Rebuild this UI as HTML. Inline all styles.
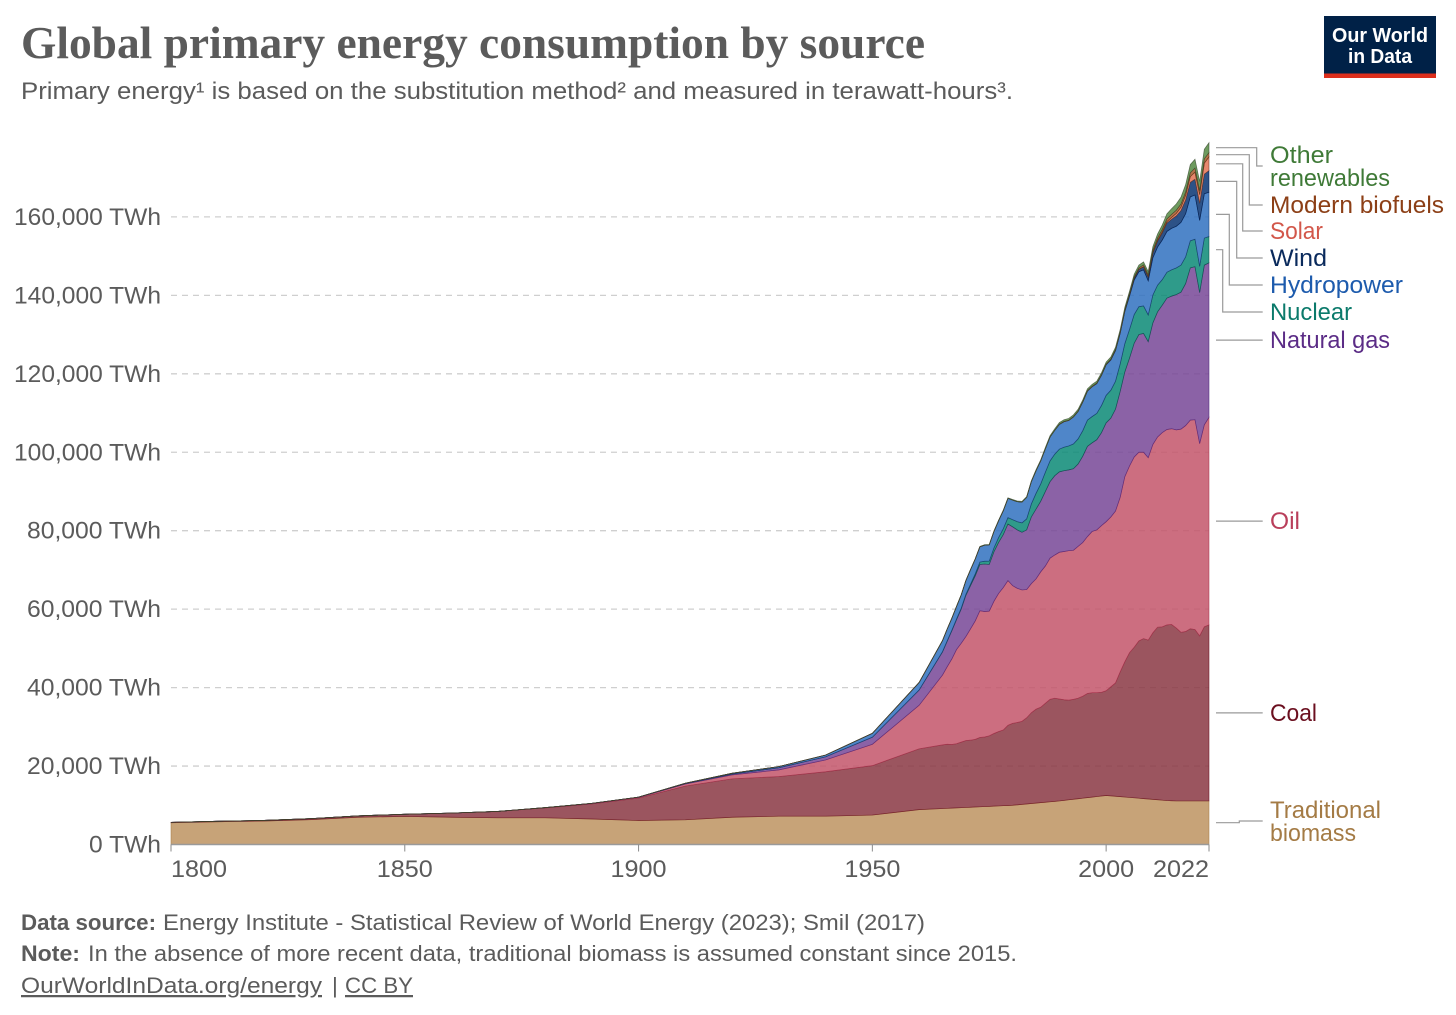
<!DOCTYPE html>
<html lang="en">
<head>
<meta charset="utf-8">
<title>Global primary energy consumption by source</title>
<style>
html,body{margin:0;padding:0;background:#fff;}
svg{display:block;}
text{font-family:"Liberation Sans",sans-serif;}
.ttl{font-family:"Liberation Serif",serif;font-weight:700;font-size:46px;fill:#5b5b5b;}
.sub{font-size:24.5px;fill:#5b5b5b;}
.foot{font-size:22.5px;fill:#5b5b5b;}
.fb{font-weight:700;}
.lab{font-size:24px;}
.tick{font-size:24px;fill:#5b5b5b;}
</style>
</head>
<body>
<svg id="chart" xmlns="http://www.w3.org/2000/svg" width="1456" height="1015" viewBox="0 0 1456 1015">
  <rect x="0" y="0" width="1456" height="1015" fill="#ffffff"/>
  <text class="ttl" x="21" y="58" textLength="904" lengthAdjust="spacingAndGlyphs">Global primary energy consumption by source</text>
  <text class="sub" x="21" y="99" textLength="992" lengthAdjust="spacingAndGlyphs">Primary energy¹ is based on the substitution method² and measured in terawatt-hours³.</text>

  <g>
    <rect x="1324" y="16" width="112" height="62" fill="#002147"/>
    <rect x="1324" y="73.5" width="112" height="4.5" fill="#dc2e1c"/>
    <text x="1380" y="42" text-anchor="middle" font-size="20" font-weight="700" fill="#ffffff" textLength="96" lengthAdjust="spacingAndGlyphs">Our World</text>
    <text x="1380" y="63" text-anchor="middle" font-size="20" font-weight="700" fill="#ffffff" textLength="64" lengthAdjust="spacingAndGlyphs">in Data</text>
  </g>

  <g id="grid"></g>
  <g id="areas"></g>
  <g id="axes"></g>
  <g id="connectors"></g>

  <g>
    <text class="lab" x="1270" y="163" fill="#3f7a37" textLength="63" lengthAdjust="spacingAndGlyphs">Other</text>
    <text class="lab" x="1270" y="186" fill="#3f7a37" textLength="120" lengthAdjust="spacingAndGlyphs">renewables</text>
    <text class="lab" x="1270" y="213" fill="#8c3f16" textLength="174" lengthAdjust="spacingAndGlyphs">Modern biofuels</text>
    <text class="lab" x="1270" y="239" fill="#d2574a" textLength="53" lengthAdjust="spacingAndGlyphs">Solar</text>
    <text class="lab" x="1270" y="266" fill="#0a2a5c" textLength="57" lengthAdjust="spacingAndGlyphs">Wind</text>
    <text class="lab" x="1270" y="293" fill="#1d5bad" textLength="133" lengthAdjust="spacingAndGlyphs">Hydropower</text>
    <text class="lab" x="1270" y="320" fill="#0b7a6b" textLength="82" lengthAdjust="spacingAndGlyphs">Nuclear</text>
    <text class="lab" x="1270" y="348" fill="#5b2c86" textLength="120" lengthAdjust="spacingAndGlyphs">Natural gas</text>
    <text class="lab" x="1270" y="529" fill="#b93f5b" textLength="30" lengthAdjust="spacingAndGlyphs">Oil</text>
    <text class="lab" x="1270" y="721" fill="#6b0f1f" textLength="47" lengthAdjust="spacingAndGlyphs">Coal</text>
    <text class="lab" x="1270" y="818" fill="#a47b45" textLength="111" lengthAdjust="spacingAndGlyphs">Traditional</text>
    <text class="lab" x="1270" y="841" fill="#a47b45" textLength="86" lengthAdjust="spacingAndGlyphs">biomass</text>
  </g>

  <g>
    <text class="foot fb" x="21" y="930" textLength="135" lengthAdjust="spacingAndGlyphs">Data source:</text>
    <text class="foot" x="163" y="930" textLength="762" lengthAdjust="spacingAndGlyphs">Energy Institute - Statistical Review of World Energy (2023); Smil (2017)</text>
    <text class="foot fb" x="21" y="961" textLength="59" lengthAdjust="spacingAndGlyphs">Note:</text>
    <text class="foot" x="88" y="961" textLength="929" lengthAdjust="spacingAndGlyphs">In the absence of more recent data, traditional biomass is assumed constant since 2015.</text>
    <text class="foot" x="21" y="993" textLength="301" lengthAdjust="spacingAndGlyphs" text-decoration="underline">OurWorldInData.org/energy</text>
    <text class="foot" x="332" y="993">|</text>
    <text class="foot" x="345" y="993" textLength="68" lengthAdjust="spacingAndGlyphs" text-decoration="underline">CC BY</text>
  </g>
</svg>

<script>
const years = [1800,1810,1820,1830,1840,1850,1860,1870,1880,1890,1900,1910,1920,1930,1940,1950,1960,
1965,1966,1967,1968,1969,1970,1971,1972,1973,1974,1975,1976,1977,1978,1979,
1980,1981,1982,1983,1984,1985,1986,1987,1988,1989,
1990,1991,1992,1993,1994,1995,1996,1997,1998,1999,
2000,2001,2002,2003,2004,2005,2006,2007,2008,2009,
2010,2011,2012,2013,2014,2015,2016,2017,2018,2019,2020,2021,2022];

const traditionalBiomass = [5556,5800,6000,6350,6950,7150,6950,6800,6800,6500,6111,6300,6944,7222,7222,7500,8889,
9167,9222,9278,9333,9389,9444,9500,9556,9611,9667,9722,9778,9833,9889,9944,
10000,10111,10222,10333,10444,10556,10667,10778,10889,11000,
11111,11250,11389,11528,11667,11806,11944,12083,12222,12361,
12500,12400,12300,12200,12100,12000,11900,11800,11700,11600,
11500,11400,11300,11200,11150,11111,11111,11111,11111,11111,11111,11111,11111];

const coal = [97,128,153,264,356,569,1061,1642,2542,3856,5728,8600,9800,10100,11330,12603,15500,
16233,16328,16222,16367,16711,17056,17100,17244,17689,17733,17978,18522,18967,19311,20456,
20900,20989,21178,21967,23156,23944,24333,25222,26111,26300,
25989,25650,25411,25472,25633,25994,26556,26617,26478,26439,
26700,27800,28900,31800,34500,36900,38400,40100,40800,40500,
42500,44000,44200,44800,44950,44089,42989,43189,43889,43689,42089,44389,44889];

const oil = [0,0,0,0,0,0,0,6,58,90,181,500,1000,1700,3000,5444,11100,
17800,19750,21800,24000,25200,26500,28400,30200,32300,32000,31800,33700,35200,36300,36900,
35100,34200,33500,32700,32900,33200,34500,35000,36000,36500,
37400,37800,38100,38000,38700,39200,40000,41100,41500,42500,
43100,43300,43800,44500,47200,47600,48500,48100,47500,46500,
48000,48500,49500,49800,49900,50500,51800,52500,53200,53500,49000,51500,52900];

const naturalGas = [0,0,0,0,0,0,0,0,3,50,64,142,233,550,800,1800,3900,
5900,6500,7200,7600,8700,10500,11000,11500,11800,12100,11900,12600,13000,13500,14400,
15000,14900,14700,15200,17000,17800,18000,19000,19500,20200,
20500,20600,20600,20800,21000,22000,23000,22600,23000,23700,
25200,25200,26000,27000,26700,27500,29000,30000,30300,29600,
31000,31900,32500,33500,33800,34500,34900,36200,38800,39000,38500,40700,39400];

const nuclear = [0,0,0,0,0,0,0,0,0,0,0,0,0,0,0,0,0,
70,100,130,170,220,280,370,480,600,720,850,1000,1250,1500,1650,
1800,2100,2400,2800,3300,4000,4400,4900,5300,5500,
5800,6000,6100,6300,6400,6500,6700,6700,6700,6900,
7000,7100,7100,7000,7200,7300,7300,7100,7000,6800,
7100,6800,6500,6600,6700,6800,6900,6800,6900,7000,6700,6900,6700];

const hydropower = [0,0,0,0,0,0,0,0,0,0,5,90,180,300,450,1000,1900,
2800,3000,3050,3200,3400,3500,3700,3800,3900,4100,4150,4200,4300,4600,4900,
5000,5100,5300,5500,5700,5800,5900,6000,6100,6100,
6300,6500,6500,6900,7000,7300,7400,7600,7600,7700,
7800,7700,7800,7800,8200,8500,8800,8900,9200,8700,
9500,9700,10100,10400,10600,10600,10900,11000,11200,11300,11700,11300,11300];

const wind = [0,0,0,0,0,0,0,0,0,0,0,0,0,0,0,0,0,
0,0,0,0,0,0,0,0,0,0,0,0,0,0,0,
0,0,0,0,1,1,1,1,1,2,
10,10,15,15,20,20,30,40,60,80,
100,140,180,230,300,370,500,630,780,1000,
1250,1550,1800,2150,2300,2650,3000,3500,3700,4000,4400,5000,5500];

const solar = [0,0,0,0,0,0,0,0,0,0,0,0,0,0,0,0,0,
0,0,0,0,0,0,0,0,0,0,0,0,0,0,0,
0,0,0,0,0,0,0,0,0,0,
1,1,1,2,2,2,2,2,3,3,
3,4,5,6,7,10,15,20,30,50,
90,180,270,350,470,650,860,1170,1500,1800,2200,2800,3500];

const modernBiofuels = [0,0,0,0,0,0,0,0,0,0,0,0,0,0,0,0,0,
0,0,0,0,0,0,0,0,0,0,0,0,0,0,0,
0,0,0,0,0,0,0,0,0,0,
60,65,60,60,65,70,70,80,80,80,
100,110,130,150,170,220,280,350,460,500,
600,600,620,700,770,800,800,850,950,1050,1000,1100,1100];

const otherRenewables = [0,0,0,0,0,0,0,0,0,0,0,0,0,0,0,0,0,
50,52,55,60,65,70,75,80,85,90,100,110,120,130,145,
160,170,185,200,215,230,260,300,340,370,
400,420,440,450,470,450,460,470,480,490,
500,520,540,570,600,640,680,720,760,800,
900,1000,1150,1300,1450,1600,1750,1900,2100,2250,2350,2430,2500];

const seriesValues = [traditionalBiomass,coal,oil,naturalGas,nuclear,hydropower,wind,solar,modernBiofuels,otherRenewables];
const seriesNames = ["traditional-biomass","coal","oil","natural-gas","nuclear","hydropower","wind","solar","modern-biofuels","other-renewables"];
const yTickValues = [0,20000,40000,60000,80000,100000,120000,140000,160000];
const yTickLabels = ["0 TWh","20,000 TWh","40,000 TWh","60,000 TWh","80,000 TWh","100,000 TWh","120,000 TWh","140,000 TWh","160,000 TWh"];
const xTickValues = [1800,1850,1900,1950,2000,2022];
const xTickLabels = ["1800","1850","1900","1950","2000","2022"];

/* presentation, kept apart from the data */
const fillColors = ["#bd9360","#893743","#c3556a","#774696","#0a8976","#3071c0","#083472","#e47254","#a85a2a","#558943"];
const strokeColors = ["#a47b45","#6b0f1f","#a8354f","#4f2478","#0a4f45","#163a6e","#001a4a","#6b3a2a","#5a3010","#3a4a30"];
const connectorElbowX = [1239.3,null,null,null,1222.7,1229.3,1236.7,1242.7,1249.3,1256.7];
const connectorLabelY = [821,null,null,null,312,285,258,231,205,166];
const yLabelWidths = [72,134,134,134,134,147,147,147,147];

function xScale(year){ return 171 + (year - 1800) * (1038 / 222); }
function yScale(value){ return 844.5 - value * 0.0039225; }

const NS = "http://www.w3.org/2000/svg";
const gridG = document.getElementById("grid");
const areasG = document.getElementById("areas");
const axesG = document.getElementById("axes");
const connG = document.getElementById("connectors");

/* gridlines and y ticks */
yTickValues.forEach(function(v,i){
  if(v !== 0){
    const line = document.createElementNS(NS,"line");
    
    
    line.setAttribute("x1",171);
    line.setAttribute("x2",1209);
    line.setAttribute("y1",yScale(v));
    line.setAttribute("y2",yScale(v));
    line.setAttribute("stroke","#cfcfcf");
    line.setAttribute("stroke-width","1.3");
    line.setAttribute("stroke-dasharray","6 5");
    gridG.appendChild(line);
  }
  const t = document.createElementNS(NS,"text");
  
  
  t.setAttribute("class","tick");
  t.setAttribute("x",161);
  t.setAttribute("y",yScale(v)+8);
  t.setAttribute("text-anchor","end");
  t.setAttribute("textLength",yLabelWidths[i]);
  t.setAttribute("lengthAdjust","spacingAndGlyphs");
  t.textContent = yTickLabels[i];
  axesG.appendChild(t);
});

/* stacked areas */
const cumulative = years.map(function(){ return 0; });
const bandMid = [];
seriesValues.forEach(function(vals,s){
  const lower = cumulative.slice();
  let top = "";
  let bottom = "";
  years.forEach(function(yr,i){
    cumulative[i] += vals[i];
    top += (i ? "L" : "M") + xScale(yr).toFixed(2) + " " + yScale(cumulative[i]).toFixed(2);
  });
  for(let i = years.length-1; i >= 0; i--){
    bottom += "L" + xScale(years[i]).toFixed(2) + " " + yScale(lower[i]).toFixed(2);
  }
  const last = years.length-1;
  bandMid.push((lower[last] + cumulative[last]) / 2);
  const p = document.createElementNS(NS,"path");
  
  
  p.setAttribute("d",top+bottom+"Z");
  p.setAttribute("fill",fillColors[s]);
  p.setAttribute("fill-opacity","0.85");
  p.setAttribute("stroke",strokeColors[s]);
  p.setAttribute("stroke-opacity","0.75");
  p.setAttribute("stroke-width","0.7");
  areasG.appendChild(p);
});

/* x axis */
const axisLine = document.createElementNS(NS,"line");


axisLine.setAttribute("x1",171);
axisLine.setAttribute("x2",1209);
axisLine.setAttribute("y1",yScale(0));
axisLine.setAttribute("y2",yScale(0));
axisLine.setAttribute("stroke","#9a9a9a");
axisLine.setAttribute("stroke-width","1.4");
axesG.appendChild(axisLine);

xTickValues.forEach(function(yr,i){
  const tk = document.createElementNS(NS,"line");
  
  
  tk.setAttribute("x1",xScale(yr));
  tk.setAttribute("x2",xScale(yr));
  tk.setAttribute("y1",yScale(0));
  tk.setAttribute("y2",yScale(0)+7);
  tk.setAttribute("stroke","#8a8a8a");
  tk.setAttribute("stroke-width","1");
  axesG.appendChild(tk);
  const t = document.createElementNS(NS,"text");
  
  
  t.setAttribute("class","tick");
  t.setAttribute("y",877);
  t.setAttribute("textLength",56);
  t.setAttribute("lengthAdjust","spacingAndGlyphs");
  let anchor = "middle";
  if(i === 0){ anchor = "start"; }
  if(i === xTickValues.length-1){ anchor = "end"; }
  t.setAttribute("x",xScale(yr));
  t.setAttribute("text-anchor",anchor);
  t.textContent = xTickLabels[i];
  axesG.appendChild(t);
});

/* connectors start at each band's middle at the final year */
bandMid.forEach(function(mid,s){
  const y0 = yScale(mid);
  const elbow = connectorElbowX[s];
  const yLabel = connectorLabelY[s];
  const d = elbow === null
    ? "M1216 "+y0.toFixed(1)+"H1262.7"
    : "M1216 "+y0.toFixed(1)+"H"+elbow+"V"+yLabel+"H1262.7";
  const c = document.createElementNS(NS,"path");
  
  
  c.setAttribute("d",d);
  c.setAttribute("fill","none");
  c.setAttribute("stroke","#9a9a9a");
  c.setAttribute("stroke-width","1.2");
  connG.appendChild(c);
});
</script>
</body>
</html>
